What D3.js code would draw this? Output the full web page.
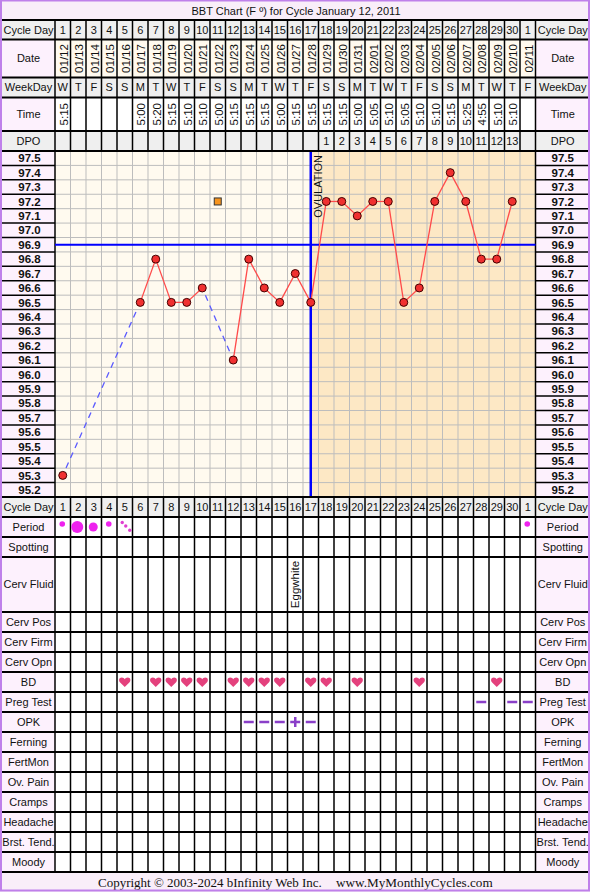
<!DOCTYPE html>
<html>
<head>
<meta charset="utf-8">
<script src="https://cdn.jsdelivr.net/npm/d3@7"></script>
<style>
  body { margin: 0; background: #fff; }
  text { font-family: "Liberation Sans", Arial, sans-serif; fill: #111; }
</style>
</head>
<body>
<div id="chart"></div>
<script>
// ---- data ----
var cycleDays = ["1","2","3","4","5","6","7","8","9","10","11","12","13","14","15","16","17","18","19","20","21","22","23","24","25","26","27","28","29","30","1"];
var dates = ["01/12","01/13","01/14","01/15","01/16","01/17","01/18","01/19","01/20","01/21","01/22","01/23","01/24","01/25","01/26","01/27","01/28","01/29","01/30","01/31","02/01","02/02","02/03","02/04","02/05","02/06","02/07","02/08","02/09","02/10","02/11"];
var weekdays = ["W","T","F","S","S","M","T","W","T","F","S","S","M","T","W","T","F","S","S","M","T","W","T","F","S","S","M","T","W","T","F"];
var times = ["5:15","","","","","5:00","5:20","5:15","5:10","5:10","5:00","5:15","5:15","5:15","5:00","5:15","5:15","5:15","5:15","5:00","5:05","5:10","5:05","5:10","5:10","5:15","5:25","4:55","5:10","5:10",""];
var dpo = ["","","","","","","","","","","","","","","","","","1","2","3","4","5","6","7","8","9","10","11","12","13",""];
var temps = [95.3,null,null,null,null,96.5,96.8,96.5,96.5,96.6,null,96.1,96.8,96.6,96.5,96.7,96.5,97.2,97.2,97.1,97.2,97.2,96.5,96.6,97.2,97.4,97.2,96.8,96.8,97.2,null];
var discarded = [{day: 10, temp: 97.2}];
var tempTicks = ["97.5","97.4","97.3","97.2","97.1","97.0","96.9","96.8","96.7","96.6","96.5","96.4","96.3","96.2","96.1","96.0","95.9","95.8","95.7","95.6","95.5","95.4","95.3","95.2"];
var coverline = 96.9;
var ovulationDay = 16;
var period = ["light","heavy","medium","light","spotting","","","","","","","","","","","","","","","","","","","","","","","","","","light"];
var cervFluid = ["","","","","","","","","","","","","","","","Eggwhite","","","","","","","","","","","","","","",""];
var bd = [4,6,7,8,9,11,12,13,14,16,17,19,23,28];
var pregTest = [{day: 27, res: "-"},{day: 29, res: "-"},{day: 30, res: "-"}];
var opk = [{day: 12, res: "-"},{day: 13, res: "-"},{day: 14, res: "-"},{day: 15, res: "+"},{day: 16, res: "-"}];
var bottomLabels = ["Cycle Day","Period","Spotting","Cerv Fluid","Cerv Pos","Cerv Firm","Cerv Opn","BD","Preg Test","OPK","Ferning","FertMon","Ov. Pain","Cramps","Headache","Brst. Tend.","Moody"];

// ---- layout ----
var W = 590, H = 892;
var leftX = 2, colX0 = 55, colX1 = 535.5, rightX = 588;
var chartTop = 151, chartBottom = 497;
var lav = "#fdf1fd", grey = "#efefef", cream = "#fffaef", peach = "#fde8c5";
var purple = "#bf80ea", markPurple = "#8a3fc8";
var fs = "11px";

var svg = d3.select("#chart").append("svg")
    .attr("width", W)
    .attr("height", H);

var x = d3.scaleBand().domain(d3.range(cycleDays.length)).range([colX0, colX1]);
var cx = function(i){ return x(i) + x.bandwidth() / 2; };
var y = d3.scaleLinear().domain([95.15, 97.55]).range([chartBottom, chartTop]);

svg.append("defs").append("clipPath").attr("id", "rclip")
    .append("rect").attr("x", colX1).attr("y", 0).attr("width", rightX - colX1).attr("height", H);

// title + footer bands
svg.append("rect").attr("x", 0).attr("y", 0).attr("width", W).attr("height", 20).attr("fill", "#f9eef9");
svg.append("text").attr("x", 296).attr("y", 14.5).attr("text-anchor", "middle")
    .attr("font-size", "11px").text("BBT Chart (F º) for Cycle January 12, 2011");
svg.append("rect").attr("x", 0).attr("y", 872).attr("width", W).attr("height", 20).attr("fill", "#f9eef9");
svg.append("text").attr("x", 98).attr("y", 887).attr("font-size", "13px")
    .style("font-family", "'Liberation Serif', 'Times New Roman', serif")
    .text("Copyright © 2003-2024 bInfinity Web Inc.");
svg.append("text").attr("x", 336).attr("y", 887).attr("font-size", "13.2px")
    .style("font-family", "'Liberation Serif', 'Times New Roman', serif")
    .text("www.MyMonthlyCycles.com");

// ---- table rows (header and bottom) ----
var topRows = [
    {label: "Cycle Day", y0: 20, y1: 39.5, fill: grey, lfill: grey, vals: cycleDays},
    {label: "Date", y0: 39.5, y1: 77.5, fill: cream, lfill: lav, vals: dates, rot: true},
    {label: "WeekDay", y0: 77.5, y1: 97.5, fill: grey, lfill: grey, vals: weekdays},
    {label: "Time", y0: 97.5, y1: 131, fill: "#fff", lfill: lav, vals: times, rot: true},
    {label: "DPO", y0: 131, y1: chartTop, fill: grey, lfill: grey, vals: dpo}
];
var bottomRows = [];
var yy = chartBottom;
bottomLabels.forEach(function(l){
    var h = l === "Cerv Fluid" ? 55 : 20;
    bottomRows.push({label: l, y0: yy, y1: yy + h,
        fill: l === "Cycle Day" ? grey : "#fff",
        lfill: l === "Cycle Day" ? grey : lav,
        vals: l === "Cycle Day" ? cycleDays : null});
    yy += h;
});
var rows = topRows.concat(bottomRows);

var rowG = svg.append("g");
rows.forEach(function(r){
    var g = rowG.append("g");
    g.append("rect").attr("x", colX0).attr("y", r.y0).attr("width", colX1 - colX0)
        .attr("height", r.y1 - r.y0).attr("fill", r.fill);
    [leftX, colX1].forEach(function(lx){
        g.append("rect").attr("x", lx).attr("y", r.y0).attr("width", lx === leftX ? colX0 - leftX : rightX - colX1)
            .attr("height", r.y1 - r.y0).attr("fill", r.lfill);
    });
    var my = (r.y0 + r.y1) / 2;
    g.append("text").attr("x", (leftX + colX0) / 2).attr("y", my).attr("dy", "0.35em")
        .attr("text-anchor", "middle").attr("font-size", fs).text(r.label);
    g.append("text").attr("x", (colX1 + rightX) / 2 + 1).attr("y", my).attr("dy", "0.35em")
        .attr("clip-path", "url(#rclip)")
        .attr("text-anchor", "middle").attr("font-size", fs).text(r.label);
    if (r.vals) {
        g.selectAll(".v").data(r.vals).enter().append("text")
            .attr("font-size", r.rot ? "11.5px" : fs)
            .attr("text-anchor", "middle")
            .attr("dy", "0.35em")
            .attr("transform", function(d, i){
                return "translate(" + (cx(i) + (r.rot ? 1 : 0)) + "," + my + ")" + (r.rot ? " rotate(-90)" : "");
            })
            .text(function(d){ return d; });
    }
    // vertical cell borders
    g.selectAll(".vl").data(d3.range(cycleDays.length + 1)).enter().append("line")
        .attr("x1", function(i){ return colX0 + i * x.bandwidth(); })
        .attr("x2", function(i){ return colX0 + i * x.bandwidth(); })
        .attr("y1", r.y0).attr("y2", r.y1)
        .attr("stroke", "#000").attr("stroke-width", 1.5);
});
// horizontal row borders
var bounds = [20];
rows.forEach(function(r){ bounds.push(r.y1); });
rowG.selectAll(".hl").data(bounds).enter().append("line")
    .attr("x1", 0).attr("x2", W)
    .attr("y1", function(d){ return d; }).attr("y2", function(d){ return d; })
    .attr("stroke", "#000").attr("stroke-width", 2);

// ---- temperature chart ----
var ovX = cx(ovulationDay);
var chart = svg.append("g");
chart.append("rect").attr("x", colX0).attr("y", chartTop).attr("width", ovX - colX0)
    .attr("height", chartBottom - chartTop).attr("fill", cream);
chart.append("rect").attr("x", ovX).attr("y", chartTop).attr("width", colX1 - ovX)
    .attr("height", chartBottom - chartTop).attr("fill", peach);
[leftX, colX1].forEach(function(lx){
    chart.append("rect").attr("x", lx).attr("y", chartTop).attr("width", lx === leftX ? colX0 - leftX : rightX - colX1)
        .attr("height", chartBottom - chartTop).attr("fill", lav);
});

var halfLines = d3.range(1, tempTicks.length).map(function(i){ return y(+tempTicks[i] + 0.05); });
chart.selectAll(".gh").data(halfLines).enter().append("line")
    .attr("x1", colX0).attr("x2", colX1)
    .attr("y1", function(d){ return d; }).attr("y2", function(d){ return d; })
    .attr("stroke", "#bdbdbd").attr("stroke-width", 1);
chart.selectAll(".gv").data(d3.range(1, cycleDays.length)).enter().append("line")
    .attr("x1", function(i){ return colX0 + i * x.bandwidth(); })
    .attr("x2", function(i){ return colX0 + i * x.bandwidth(); })
    .attr("y1", chartTop).attr("y2", chartBottom)
    .attr("stroke", "#bdbdbd").attr("stroke-width", 1);
// label column separators
[[0, colX0], [colX1, W]].forEach(function(s){
    chart.selectAll(null).data(halfLines).enter().append("line")
        .attr("x1", s[0]).attr("x2", s[1])
        .attr("y1", function(d){ return d; }).attr("y2", function(d){ return d; })
        .attr("stroke", "#000").attr("stroke-width", 1.5);
});
[colX0, colX1].forEach(function(lx){
    chart.append("line").attr("x1", lx).attr("x2", lx).attr("y1", chartTop).attr("y2", chartBottom)
        .attr("stroke", "#000").attr("stroke-width", 1.5);
});
[[(leftX + colX0) / 2 + 1], [(colX1 + rightX) / 2 + 1]].forEach(function(p){
    chart.selectAll(null).data(tempTicks).enter().append("text")
        .attr("x", p[0]).attr("y", function(d){ return y(+d); }).attr("dy", "0.36em")
        .attr("text-anchor", "middle").attr("font-size", "11.5px").attr("font-weight", "bold")
        .text(function(d){ return d; });
});

// coverline + ovulation line
chart.append("line").attr("x1", colX0).attr("x2", colX1).attr("y1", y(coverline)).attr("y2", y(coverline))
    .attr("stroke", "#0000ff").attr("stroke-width", 2);
chart.append("line").attr("x1", ovX).attr("x2", ovX).attr("y1", chartTop).attr("y2", chartBottom)
    .attr("stroke", "#0000ff").attr("stroke-width", 2.5);
chart.append("text").attr("transform", "translate(" + (ovX + 11) + "," + (chartTop + 4) + ") rotate(-90)")
    .attr("text-anchor", "end").attr("font-size", "11px").text("OVULATION");

// temperature lines: solid between neighbours, dashed over gaps
var pts = [];
temps.forEach(function(t, i){ if (t !== null) pts.push({i: i, t: t}); });
for (var k = 1; k < pts.length; k++) {
    var a = pts[k - 1], b = pts[k];
    var x1 = cx(a.i), y1 = y(a.t), x2 = cx(b.i), y2 = y(b.t);
    if (b.i - a.i === 1) {
        chart.append("line").attr("x1", x1).attr("y1", y1).attr("x2", x2).attr("y2", y2)
            .attr("stroke", "#ff4a4a").attr("stroke-width", 1.3);
    } else {
        var len = Math.hypot(x2 - x1, y2 - y1), ux = (x2 - x1) / len, uy = (y2 - y1) / len;
        chart.append("line").attr("x1", x1 + ux * 8).attr("y1", y1 + uy * 8)
            .attr("x2", x2 - ux * 8).attr("y2", y2 - uy * 8)
            .attr("stroke", "#5a5aff").attr("stroke-width", 1.3).attr("stroke-dasharray", "6,5");
    }
}
chart.selectAll(".pt").data(pts).enter().append("circle")
    .attr("cx", function(d){ return cx(d.i); }).attr("cy", function(d){ return y(d.t); })
    .attr("r", 4).attr("fill", "#f03030").attr("stroke", "#400").attr("stroke-width", 1);
chart.selectAll(".disc").data(discarded).enter().append("rect")
    .attr("x", function(d){ return cx(d.day) - 3.5; }).attr("y", function(d){ return y(d.temp) - 3.5; })
    .attr("width", 7).attr("height", 7).attr("fill", "#f7941d").attr("stroke", "#333").attr("stroke-width", 1);

chart.append("line").attr("x1", 0).attr("x2", W).attr("y1", chartTop).attr("y2", chartTop)
    .attr("stroke", "#000").attr("stroke-width", 2);
chart.append("line").attr("x1", 0).attr("x2", W).attr("y1", chartBottom).attr("y2", chartBottom)
    .attr("stroke", "#000").attr("stroke-width", 2);

// ---- observation marks ----
var rowMid = function(label){
    var r = bottomRows.filter(function(d){ return d.label === label; })[0];
    return (r.y0 + r.y1) / 2;
};
var marks = svg.append("g");
var flowR = {light: 2.8, medium: 4.5, heavy: 6};
period.forEach(function(p, i){
    var py = rowMid("Period");
    if (flowR[p]) {
        marks.append("circle").attr("cx", cx(i) - (p === "heavy" ? 1 : 0.5)).attr("cy", py - (p === "light" ? 3 : 0))
            .attr("r", flowR[p]).attr("fill", "#ee22ee");
    } else if (p === "spotting") {
        [[-2.5, -4.5], [1, -1], [5, 3.3]].forEach(function(o){
            marks.append("circle").attr("cx", cx(i) + o[0]).attr("cy", py + o[1]).attr("r", 1.7).attr("fill", "#e040d0");
        });
    }
});
cervFluid.forEach(function(c, i){
    if (!c) return;
    marks.append("text").attr("transform", "translate(" + cx(i) + "," + rowMid("Cerv Fluid") + ") rotate(-90)")
        .attr("text-anchor", "middle").attr("dy", "0.35em").attr("font-size", "11.5px").text(c);
});
var heart = "M0,4.5 L-4.6,0 C-6.5,-2 -5.8,-5 -3,-5 C-1.6,-5 -0.6,-4.2 0,-3.2 C0.6,-4.2 1.6,-5 3,-5 C5.8,-5 6.5,-2 4.6,0 Z";
marks.selectAll(".bd").data(bd).enter().append("path")
    .attr("d", heart)
    .attr("transform", function(d){ return "translate(" + cx(d) + "," + (rowMid("BD") + 0.5) + ")"; })
    .attr("fill", "#e4417d");
function drawSign(list, label){
    var my = rowMid(label);
    list.forEach(function(s){
        var c = cx(s.day);
        marks.append("line").attr("x1", c - 5).attr("x2", c + 5).attr("y1", my).attr("y2", my)
            .attr("stroke", markPurple).attr("stroke-width", 2.5);
        if (s.res === "+") {
            marks.append("line").attr("x1", c).attr("x2", c).attr("y1", my - 5).attr("y2", my + 5)
                .attr("stroke", markPurple).attr("stroke-width", 2.5);
        }
    });
}
drawSign(pregTest, "Preg Test");
drawSign(opk, "OPK");

// outer border
svg.append("rect").attr("x", 1).attr("y", 0.5).attr("width", W - 2).attr("height", H - 2)
    .attr("fill", "none").attr("stroke", purple).attr("stroke-width", 2);
</script>
</body>
</html>
